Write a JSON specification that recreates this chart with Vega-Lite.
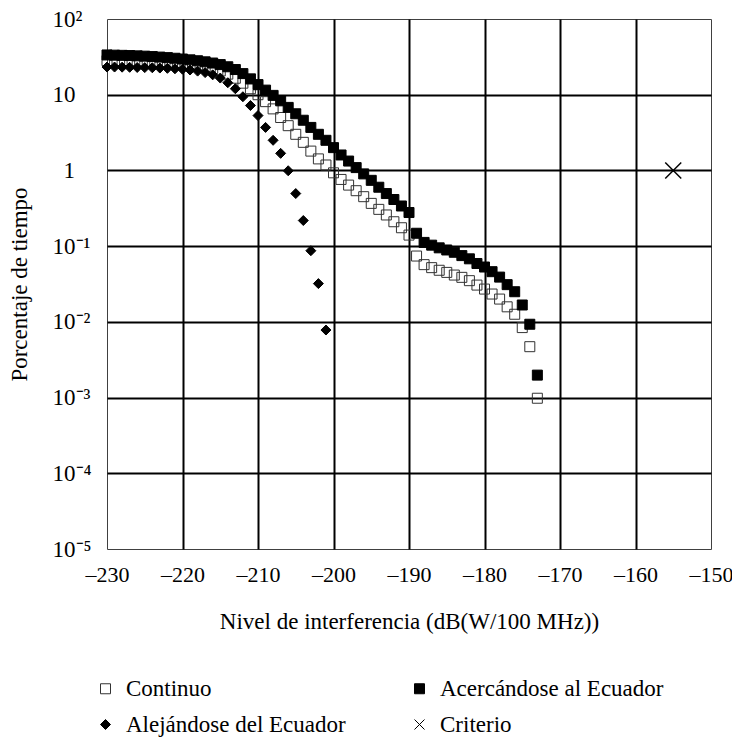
{
  "$schema": "https://vega.github.io/schema/vega-lite/v6.json",
  "autosize": {"type": "none"},
  "padding": {"left": 107, "top": 19, "right": 21, "bottom": 193},
  "width": 604,
  "height": 530,
  "background": "white",
  "datasets": {
    "pts": [
      {"nivel": -230, "pct": 28.2, "serie": "Continuo"},
      {"nivel": -229, "pct": 28.1, "serie": "Continuo"},
      {"nivel": -228, "pct": 28.0, "serie": "Continuo"},
      {"nivel": -227, "pct": 27.9, "serie": "Continuo"},
      {"nivel": -226, "pct": 27.8, "serie": "Continuo"},
      {"nivel": -225, "pct": 27.6, "serie": "Continuo"},
      {"nivel": -224, "pct": 27.4, "serie": "Continuo"},
      {"nivel": -223, "pct": 27.1, "serie": "Continuo"},
      {"nivel": -222, "pct": 26.8, "serie": "Continuo"},
      {"nivel": -221, "pct": 26.4, "serie": "Continuo"},
      {"nivel": -220, "pct": 25.9, "serie": "Continuo"},
      {"nivel": -219, "pct": 25.3, "serie": "Continuo"},
      {"nivel": -218, "pct": 24.5, "serie": "Continuo"},
      {"nivel": -217, "pct": 23.5, "serie": "Continuo"},
      {"nivel": -216, "pct": 22.2, "serie": "Continuo"},
      {"nivel": -215, "pct": 20.6, "serie": "Continuo"},
      {"nivel": -214, "pct": 18.7, "serie": "Continuo"},
      {"nivel": -213, "pct": 16.5, "serie": "Continuo"},
      {"nivel": -212, "pct": 14.2, "serie": "Continuo"},
      {"nivel": -211, "pct": 12.0, "serie": "Continuo"},
      {"nivel": -210, "pct": 10.0, "serie": "Continuo"},
      {"nivel": -209, "pct": 8.1, "serie": "Continuo"},
      {"nivel": -208, "pct": 6.5, "serie": "Continuo"},
      {"nivel": -207, "pct": 5.0, "serie": "Continuo"},
      {"nivel": -206, "pct": 3.9, "serie": "Continuo"},
      {"nivel": -205, "pct": 3.0, "serie": "Continuo"},
      {"nivel": -204, "pct": 2.35, "serie": "Continuo"},
      {"nivel": -203, "pct": 1.8, "serie": "Continuo"},
      {"nivel": -202, "pct": 1.42, "serie": "Continuo"},
      {"nivel": -201, "pct": 1.18, "serie": "Continuo"},
      {"nivel": -200, "pct": 0.93, "serie": "Continuo"},
      {"nivel": -199, "pct": 0.76, "serie": "Continuo"},
      {"nivel": -198, "pct": 0.64, "serie": "Continuo"},
      {"nivel": -197, "pct": 0.54, "serie": "Continuo"},
      {"nivel": -196, "pct": 0.45, "serie": "Continuo"},
      {"nivel": -195, "pct": 0.367, "serie": "Continuo"},
      {"nivel": -194, "pct": 0.306, "serie": "Continuo"},
      {"nivel": -193, "pct": 0.258, "serie": "Continuo"},
      {"nivel": -192, "pct": 0.21, "serie": "Continuo"},
      {"nivel": -191, "pct": 0.175, "serie": "Continuo"},
      {"nivel": -190, "pct": 0.14, "serie": "Continuo"},
      {"nivel": -189, "pct": 0.074, "serie": "Continuo"},
      {"nivel": -188, "pct": 0.057, "serie": "Continuo"},
      {"nivel": -187, "pct": 0.052, "serie": "Continuo"},
      {"nivel": -186, "pct": 0.048, "serie": "Continuo"},
      {"nivel": -185, "pct": 0.045, "serie": "Continuo"},
      {"nivel": -184, "pct": 0.0415, "serie": "Continuo"},
      {"nivel": -183, "pct": 0.0387, "serie": "Continuo"},
      {"nivel": -182, "pct": 0.035, "serie": "Continuo"},
      {"nivel": -181, "pct": 0.0306, "serie": "Continuo"},
      {"nivel": -180, "pct": 0.0271, "serie": "Continuo"},
      {"nivel": -179, "pct": 0.0233, "serie": "Continuo"},
      {"nivel": -178, "pct": 0.020, "serie": "Continuo"},
      {"nivel": -177, "pct": 0.0158, "serie": "Continuo"},
      {"nivel": -176, "pct": 0.0126, "serie": "Continuo"},
      {"nivel": -175, "pct": 0.0084, "serie": "Continuo"},
      {"nivel": -174, "pct": 0.0047, "serie": "Continuo"},
      {"nivel": -173, "pct": 0.00098, "serie": "Continuo"},
      {"nivel": -230, "pct": 33.5, "serie": "Acercándose al Ecuador"},
      {"nivel": -229, "pct": 33.3, "serie": "Acercándose al Ecuador"},
      {"nivel": -228, "pct": 33.1, "serie": "Acercándose al Ecuador"},
      {"nivel": -227, "pct": 32.9, "serie": "Acercándose al Ecuador"},
      {"nivel": -226, "pct": 32.6, "serie": "Acercándose al Ecuador"},
      {"nivel": -225, "pct": 32.3, "serie": "Acercándose al Ecuador"},
      {"nivel": -224, "pct": 31.9, "serie": "Acercándose al Ecuador"},
      {"nivel": -223, "pct": 31.4, "serie": "Acercándose al Ecuador"},
      {"nivel": -222, "pct": 30.9, "serie": "Acercándose al Ecuador"},
      {"nivel": -221, "pct": 30.3, "serie": "Acercándose al Ecuador"},
      {"nivel": -220, "pct": 29.6, "serie": "Acercándose al Ecuador"},
      {"nivel": -219, "pct": 28.9, "serie": "Acercándose al Ecuador"},
      {"nivel": -218, "pct": 28.1, "serie": "Acercándose al Ecuador"},
      {"nivel": -217, "pct": 27.2, "serie": "Acercándose al Ecuador"},
      {"nivel": -216, "pct": 26.2, "serie": "Acercándose al Ecuador"},
      {"nivel": -215, "pct": 25.0, "serie": "Acercándose al Ecuador"},
      {"nivel": -214, "pct": 23.4, "serie": "Acercándose al Ecuador"},
      {"nivel": -213, "pct": 21.5, "serie": "Acercándose al Ecuador"},
      {"nivel": -212, "pct": 19.0, "serie": "Acercándose al Ecuador"},
      {"nivel": -211, "pct": 16.2, "serie": "Acercándose al Ecuador"},
      {"nivel": -210, "pct": 13.6, "serie": "Acercándose al Ecuador"},
      {"nivel": -209, "pct": 11.5, "serie": "Acercándose al Ecuador"},
      {"nivel": -208, "pct": 9.8, "serie": "Acercándose al Ecuador"},
      {"nivel": -207, "pct": 8.3, "serie": "Acercándose al Ecuador"},
      {"nivel": -206, "pct": 6.8, "serie": "Acercándose al Ecuador"},
      {"nivel": -205, "pct": 5.6, "serie": "Acercándose al Ecuador"},
      {"nivel": -204, "pct": 4.6, "serie": "Acercándose al Ecuador"},
      {"nivel": -203, "pct": 3.7, "serie": "Acercándose al Ecuador"},
      {"nivel": -202, "pct": 3.0, "serie": "Acercándose al Ecuador"},
      {"nivel": -201, "pct": 2.5, "serie": "Acercándose al Ecuador"},
      {"nivel": -200, "pct": 2.0, "serie": "Acercándose al Ecuador"},
      {"nivel": -199, "pct": 1.6, "serie": "Acercándose al Ecuador"},
      {"nivel": -198, "pct": 1.33, "serie": "Acercándose al Ecuador"},
      {"nivel": -197, "pct": 1.09, "serie": "Acercándose al Ecuador"},
      {"nivel": -196, "pct": 0.9, "serie": "Acercándose al Ecuador"},
      {"nivel": -195, "pct": 0.74, "serie": "Acercándose al Ecuador"},
      {"nivel": -194, "pct": 0.6, "serie": "Acercándose al Ecuador"},
      {"nivel": -193, "pct": 0.495, "serie": "Acercándose al Ecuador"},
      {"nivel": -192, "pct": 0.413, "serie": "Acercándose al Ecuador"},
      {"nivel": -191, "pct": 0.339, "serie": "Acercándose al Ecuador"},
      {"nivel": -190, "pct": 0.278, "serie": "Acercándose al Ecuador"},
      {"nivel": -189, "pct": 0.148, "serie": "Acercándose al Ecuador"},
      {"nivel": -188, "pct": 0.112, "serie": "Acercándose al Ecuador"},
      {"nivel": -187, "pct": 0.103, "serie": "Acercándose al Ecuador"},
      {"nivel": -186, "pct": 0.095, "serie": "Acercándose al Ecuador"},
      {"nivel": -185, "pct": 0.089, "serie": "Acercándose al Ecuador"},
      {"nivel": -184, "pct": 0.083, "serie": "Acercándose al Ecuador"},
      {"nivel": -183, "pct": 0.075, "serie": "Acercándose al Ecuador"},
      {"nivel": -182, "pct": 0.068, "serie": "Acercándose al Ecuador"},
      {"nivel": -181, "pct": 0.059, "serie": "Acercándose al Ecuador"},
      {"nivel": -180, "pct": 0.053, "serie": "Acercándose al Ecuador"},
      {"nivel": -179, "pct": 0.046, "serie": "Acercándose al Ecuador"},
      {"nivel": -178, "pct": 0.039, "serie": "Acercándose al Ecuador"},
      {"nivel": -177, "pct": 0.031, "serie": "Acercándose al Ecuador"},
      {"nivel": -176, "pct": 0.025, "serie": "Acercándose al Ecuador"},
      {"nivel": -175, "pct": 0.0167, "serie": "Acercándose al Ecuador"},
      {"nivel": -174, "pct": 0.0093, "serie": "Acercándose al Ecuador"},
      {"nivel": -173, "pct": 0.00198, "serie": "Acercándose al Ecuador"},
      {"nivel": -230, "pct": 23.2, "serie": "Alejándose del Ecuador"},
      {"nivel": -229, "pct": 23.2, "serie": "Alejándose del Ecuador"},
      {"nivel": -228, "pct": 23.1, "serie": "Alejándose del Ecuador"},
      {"nivel": -227, "pct": 23.0, "serie": "Alejándose del Ecuador"},
      {"nivel": -226, "pct": 22.9, "serie": "Alejándose del Ecuador"},
      {"nivel": -225, "pct": 22.8, "serie": "Alejándose del Ecuador"},
      {"nivel": -224, "pct": 22.7, "serie": "Alejándose del Ecuador"},
      {"nivel": -223, "pct": 22.5, "serie": "Alejándose del Ecuador"},
      {"nivel": -222, "pct": 22.3, "serie": "Alejándose del Ecuador"},
      {"nivel": -221, "pct": 22.0, "serie": "Alejándose del Ecuador"},
      {"nivel": -220, "pct": 21.7, "serie": "Alejándose del Ecuador"},
      {"nivel": -219, "pct": 21.2, "serie": "Alejándose del Ecuador"},
      {"nivel": -218, "pct": 20.5, "serie": "Alejándose del Ecuador"},
      {"nivel": -217, "pct": 19.6, "serie": "Alejándose del Ecuador"},
      {"nivel": -216, "pct": 18.3, "serie": "Alejándose del Ecuador"},
      {"nivel": -215, "pct": 16.6, "serie": "Alejándose del Ecuador"},
      {"nivel": -214, "pct": 14.4, "serie": "Alejándose del Ecuador"},
      {"nivel": -213, "pct": 12.0, "serie": "Alejándose del Ecuador"},
      {"nivel": -212, "pct": 9.4, "serie": "Alejándose del Ecuador"},
      {"nivel": -211, "pct": 7.2, "serie": "Alejándose del Ecuador"},
      {"nivel": -210, "pct": 5.3, "serie": "Alejándose del Ecuador"},
      {"nivel": -209, "pct": 3.7, "serie": "Alejándose del Ecuador"},
      {"nivel": -208, "pct": 2.5, "serie": "Alejándose del Ecuador"},
      {"nivel": -207, "pct": 1.68, "serie": "Alejándose del Ecuador"},
      {"nivel": -206, "pct": 0.99, "serie": "Alejándose del Ecuador"},
      {"nivel": -205, "pct": 0.495, "serie": "Alejándose del Ecuador"},
      {"nivel": -204, "pct": 0.218, "serie": "Alejándose del Ecuador"},
      {"nivel": -203, "pct": 0.087, "serie": "Alejándose del Ecuador"},
      {"nivel": -202, "pct": 0.032, "serie": "Alejándose del Ecuador"},
      {"nivel": -201, "pct": 0.0078, "serie": "Alejándose del Ecuador"},
      {"nivel": -155, "pct": 1, "serie": "Criterio"}
    ]
  },
  "data": {"name": "pts"},
  "encoding": {
    "x": {
      "field": "nivel", "type": "quantitative",
      "scale": {"domain": [-230, -150], "nice": false, "zero": false},
      "axis": {
        "values": [-230, -220, -210, -200, -190, -180, -170, -160, -150],
        "labelExpr": "datum.value < 0 ? '\u2013' + abs(datum.value) : datum.label",
        "title": "Nivel de interferencia (dB(W/100 MHz))",
        "labelFlush": false,
        "labelOverlap": false,
        "labelFontSize": 22,
        "labelBaseline": "alphabetic",
        "labelPadding": 32,
        "labelDx": -5,
        "titleBaseline": "alphabetic",
        "titleY": 79,
        "gridColor": {"condition": {"test": "datum.value <= -229 || datum.value >= -151", "value": "transparent"}, "value": "black"}
      }
    },
    "y": {
      "field": "pct", "type": "quantitative",
      "scale": {"type": "log", "domain": [0.00001, 100], "nice": false},
      "axis": {
        "values": [100, 10, 1, 0.1, 0.01, 0.001, 0.0001, 0.00001],
        "labelExpr": "datum.value > 50 ? '10\u00b2' : datum.value > 5 ? '10' : datum.value > 0.5 ? '1' : datum.value > 0.05 ? '10\u207b\u00b9' : datum.value > 0.005 ? '10\u207b\u00b2' : datum.value > 0.0005 ? '10\u207b\u00b3' : datum.value > 0.00005 ? '10\u207b\u2074' : '10\u207b\u2075'",
        "labelFlush": false,
        "labelOverlap": false,
        "labelAlign": "left",
        "labelBaseline": "middle",
        "labelPadding": {"condition": {"test": "datum.value > 0.5 && datum.value < 5", "value": 44}, "value": 55},
        "title": "Porcentaje de tiempo",
        "titleBaseline": "alphabetic",
        "titleX": -81,
        "gridColor": {"condition": {"test": "datum.value > 50 || datum.value < 0.00002", "value": "transparent"}, "value": "black"}
      }
    },
    "shape": {
      "field": "serie", "type": "nominal",
      "scale": {
        "domain": ["Continuo", "Acercándose al Ecuador", "Alejándose del Ecuador", "Criterio"],
        "range": ["square", "square", "diamond", "M-1,-1L1,1M-1,1L1,-1"]
      },
      "legend": {
        "title": null,
        "orient": "none",
        "direction": "horizontal",
        "columns": 2,
        "legendX": -13,
        "legendY": 658
      }
    },
    "fill": {
      "field": "serie", "type": "nominal",
      "scale": {
        "domain": ["Continuo", "Acercándose al Ecuador", "Alejándose del Ecuador", "Criterio"],
        "range": ["transparent", "black", "black", "transparent"]
      },
      "legend": {
        "title": null,
        "orient": "none",
        "direction": "horizontal",
        "columns": 2,
        "legendX": -13,
        "legendY": 658
      }
    },
    "stroke": {
      "field": "serie", "type": "nominal",
      "scale": {
        "domain": ["Continuo", "Acercándose al Ecuador", "Alejándose del Ecuador", "Criterio"],
        "range": ["#333333", "black", "black", "black"]
      },
      "legend": {
        "title": null,
        "orient": "none",
        "direction": "horizontal",
        "columns": 2,
        "legendX": -13,
        "legendY": 658
      }
    }
  },
  "layer": [
    {
      "transform": [{"filter": "datum.serie != 'Criterio'"}],
      "mark": {"type": "point", "size": 100, "strokeWidth": 1, "opacity": 1}
    },
    {
      "transform": [{"filter": "datum.serie == 'Criterio'"}],
      "mark": {"type": "point", "size": 256, "strokeWidth": 1.5, "opacity": 1}
    }
  ],
  "config": {
    "font": "Liberation Serif",
    "view": {"stroke": "#404040", "strokeWidth": 1},
    "axis": {
      "labelFont": "Liberation Serif",
      "titleFont": "Liberation Serif",
      "labelFontSize": 23,
      "titleFontSize": 23,
      "titleFontWeight": "normal",
      "labelColor": "black",
      "titleColor": "black",
      "domain": false,
      "ticks": false,
      "tickSize": 0,
      "gridWidth": 2,
      "gridOpacity": 1
    },
    "legend": {
      "labelFont": "Liberation Serif",
      "labelFontSize": 23,
      "labelColor": "black",
      "symbolSize": 100,
      "symbolStrokeWidth": 1,
      "labelOffset": 9,
      "columnPadding": 62,
      "rowPadding": 12,
      "padding": 0,
      "labelLimit": 400
    }
  }
}
